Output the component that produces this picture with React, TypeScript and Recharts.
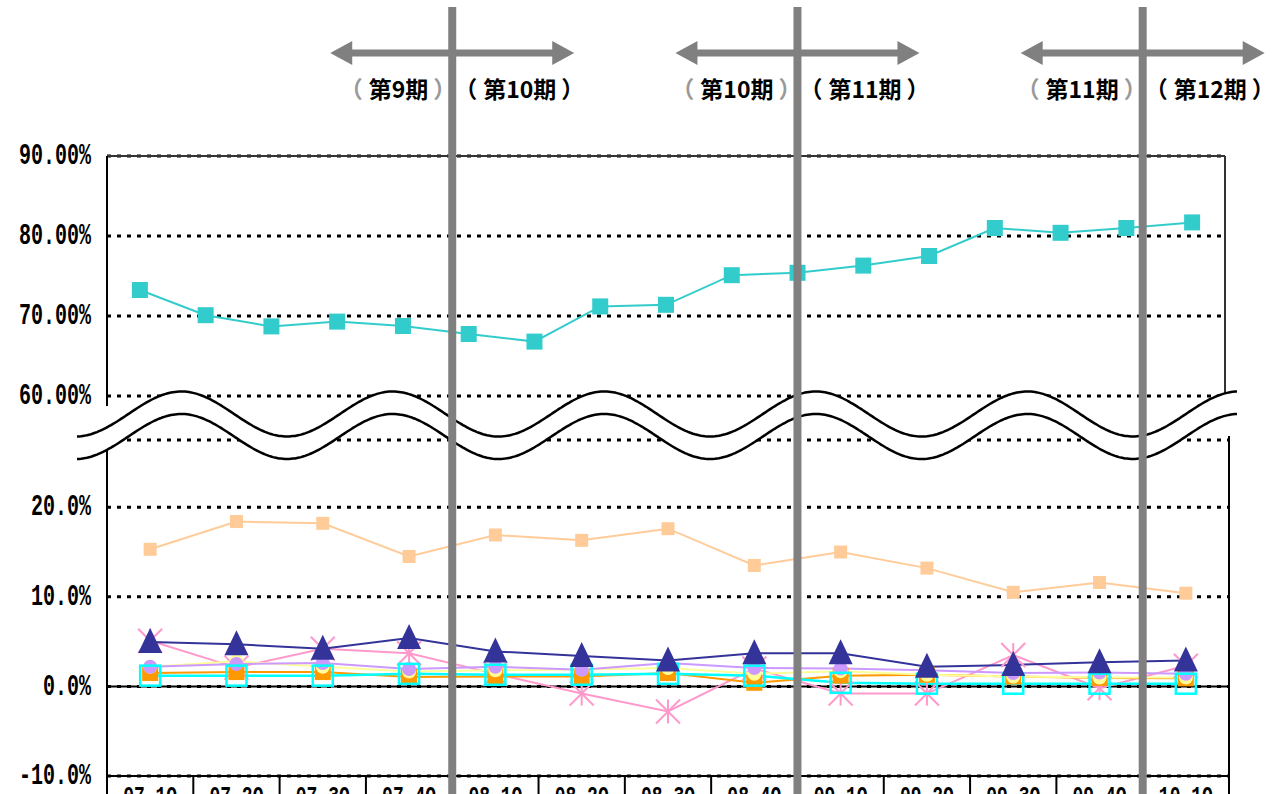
import React from "react";
import { CartesianGrid, Line, LineChart, ReferenceLine, XAxis, YAxis } from "recharts";

// ---- data ----
const upperCategories = [
  "u01", "u02", "u03", "u04", "u05", "u06", "u07", "u08", "u09",
  "u10", "u11", "u12", "u13", "u14", "u15", "u16", "u17",
];
const upperTeal = [
  73.25, 70.1, 68.7, 69.3, 68.75, 67.75, 66.8, 71.2, 71.4,
  75.1, 75.4, 76.3, 77.5, 81.0, 80.4, 81.0, 81.7,
];
const upperTicks = [60, 70, 80, 90];

const quarters = [
  "07-1Q", "07-2Q", "07-3Q", "07-4Q", "08-1Q", "08-2Q", "08-3Q",
  "08-4Q", "09-1Q", "09-2Q", "09-3Q", "09-4Q", "10-1Q",
];
const peach = [15.3, 18.4, 18.2, 14.5, 16.9, 16.3, 17.6, 13.5, 15.0, 13.2, 10.5, 11.6, 10.4];
const navy = [4.95, 4.7, 4.2, 5.4, 3.9, 3.4, 2.9, 3.7, 3.7, 2.2, 2.4, 2.7, 2.9];
const pink = [5.1, 2.1, 4.2, 3.7, 1.4, -0.8, -2.8, 2.0, -0.8, -0.8, 3.5, -0.2, 2.3];
const lavender = [2.2, 2.5, 2.6, 1.95, 2.2, 1.85, 2.6, 2.05, 2.0, 1.8, 1.5, 1.55, 1.4];
const yellow = [2.2, 2.8, 2.2, 1.65, 1.8, 1.9, 2.05, 1.4, 1.7, 1.3, 1.1, 1.0, 1.0];
const orange = [1.5, 1.6, 1.6, 1.05, 1.1, 1.1, 1.5, 0.4, 1.2, 1.3, 1.1, 0.95, 0.9];
const cyan = [1.2, 1.2, 1.2, 1.4, 1.3, 1.3, 1.4, 1.2, 0.4, 0.3, 0.3, 0.3, 0.3];
const lowerTicks = [-10, 0, 10, 20];

// period boundaries: index of the quarter where a new period starts
const periodSplits = [4, 8, 12];
const periodLeft = ["第9期", "第10期", "第11期"];
const periodRight = ["第10期", "第11期", "第12期"];

// ---- layout ----
const W = 1277;
const H = 794;
const UP = { left: 107, right: 1225, top: 156, bottom: 396, h: 420 };
const LOW = { left: 107, right: 1229, top: 440, bottom: 776 };
const BAND = (LOW.right - LOW.left) / quarters.length;
const UP_BAND = (UP.right - UP.left) / upperCategories.length;
const GRAY = "#808080";
const MONO = "'Liberation Mono', 'DejaVu Sans Mono', monospace";
const CJK = "'Noto Sans CJK JP', sans-serif";

const upperData = upperCategories.map((c, i) => ({ c, teal: upperTeal[i] }));
const lowerData = quarters.map((q, i) => ({
  q,
  peach: peach[i],
  navy: navy[i],
  pink: pink[i],
  lavender: lavender[i],
  yellow: yellow[i],
  orange: orange[i],
  cyan: cyan[i],
}));

// ---- markers ----
const squareDot = (size: number, fill: string) => (p: any) => (
  <rect key={`s${p.index}`} x={p.cx - size / 2} y={p.cy - size / 2} width={size} height={size} fill={fill} />
);
const openSquareDot = (size: number, stroke: string) => (p: any) => (
  <rect key={`o${p.index}`} x={p.cx - size / 2} y={p.cy - size / 2} width={size} height={size}
    fill="none" stroke={stroke} strokeWidth={2.5} />
);
const circleDot = (r: number, fill: string) => (p: any) => (
  <circle key={`c${p.index}`} cx={p.cx} cy={p.cy} r={r} fill={fill} />
);
const triangleDot = (p: any) => (
  <polygon key={`t${p.index}`} fill="#333399"
    points={`${p.cx},${p.cy - 14} ${p.cx - 12},${p.cy + 11} ${p.cx + 12},${p.cy + 11}`} />
);
const starDot = (p: any) => {
  const r = 12;
  return (
    <g key={`a${p.index}`} stroke="#FF99CC" strokeWidth={2}>
      <line x1={p.cx} y1={p.cy - r} x2={p.cx} y2={p.cy + r} />
      <line x1={p.cx - r} y1={p.cy - r} x2={p.cx + r} y2={p.cy + r} />
      <line x1={p.cx + r} y1={p.cy - r} x2={p.cx - r} y2={p.cy + r} />
    </g>
  );
};

// ---- ticks ----
function YTick(props: any) {
  const { x, y, payload, digits } = props;
  return (
    <g transform={`translate(${x + 2},${y}) scale(1,1.45)`}>
      <text x={0} y={0} textAnchor="end" dominantBaseline="central" fontFamily={MONO}
        fontWeight={700} fontSize={20} fill="#000">
        {`${Number(payload.value).toFixed(digits)}%`}
      </text>
    </g>
  );
}

function QuarterTick(props: any) {
  const { x, payload } = props;
  return (
    <g>
      <line x1={x + BAND / 2} x2={x + BAND / 2} y1={LOW.bottom} y2={H} stroke="#000" strokeWidth={2} />
      <g transform={`translate(${x},${804}) scale(1,1.4)`}>
        <text x={0} y={0} textAnchor="middle" fontFamily={MONO} fontWeight={700} fontSize={18} fill="#000">
          {payload.value}
        </text>
      </g>
    </g>
  );
}

// ---- break mark ----
function wavePath(offset: number) {
  const pts: string[] = [];
  for (let x = 77; x <= 1237; x += 2) {
    const y = 414 + offset + 22.5 * Math.cos((2 * Math.PI * (x - 75.5)) / 211.5);
    pts.push(`${x},${y.toFixed(1)}`);
  }
  return pts;
}

function Arrow({ cx }: { cx: number }) {
  const x1 = cx - 122;
  const x2 = cx + 122;
  const y = 53;
  const hl = 22;
  const hh = 12;
  const t = 3.5;
  const d = `M${x1},${y} L${x1 + hl},${y - hh} L${x1 + hl},${y - t} L${x2 - hl},${y - t} L${x2 - hl},${y - hh}
    L${x2},${y} L${x2 - hl},${y + hh} L${x2 - hl},${y + t} L${x1 + hl},${y + t} L${x1 + hl},${y + hh} Z`;
  return <path d={d} fill={GRAY} />;
}

function PeriodLabel({ x, anchor, label, parenFill }: { x: number; anchor: "start" | "end"; label: string; parenFill: string }) {
  return (
    <text x={x} y={98} textAnchor={anchor} fontFamily={CJK} fontWeight={700} fontSize={23} fill="#000">
      <tspan fill={parenFill}>（</tspan>
      <tspan dx={6}>{label}</tspan>
      <tspan dx={5} fill={parenFill}>）</tspan>
    </text>
  );
}

function Overlay() {
  const upper = wavePath(0);
  const lower = wavePath(22.5);
  const band = `M${upper.join(" L")} L${[...lower].reverse().join(" L")} Z`;
  return (
    <svg width={W} height={H} style={{ position: "absolute", left: 0, top: 0, pointerEvents: "none" }}>
      {/* frame pieces */}
      <line x1={UP.right} x2={UP.right} y1={UP.top} y2={UP.bottom} stroke="#333" strokeWidth={2} />
      <line x1={UP.left} x2={UP.left} y1={UP.bottom} y2={UP.bottom + 10} stroke="#000" strokeWidth={2} />
      <line x1={LOW.right} x2={LOW.right} y1={LOW.top - 4} y2={H} stroke="#000" strokeWidth={2} />
      <line x1={LOW.left} x2={LOW.left} y1={LOW.bottom} y2={H} stroke="#000" strokeWidth={2} />

      {/* axis break */}
      <path d={band} fill="#fff" stroke="none" />
      <path d={`M${upper.join(" L")}`} fill="none" stroke="#000" strokeWidth={2.5} />
      <path d={`M${lower.join(" L")}`} fill="none" stroke="#000" strokeWidth={2.5} />

      {/* fiscal period boundaries */}
      {periodSplits.map((idx, i) => {
        const x = LOW.left + idx * BAND;
        return (
          <g key={idx}>
            <line x1={x} x2={x} y1={7} y2={H} stroke={GRAY} strokeWidth={8} />
            <Arrow cx={x} />
            <PeriodLabel x={x + 4} anchor="end" label={periodLeft[i]} parenFill="#999" />
            <PeriodLabel x={x + 2} anchor="start" label={periodRight[i]} parenFill="#000" />
          </g>
        );
      })}
    </svg>
  );
}

export default function App() {
  return (
    <div style={{ position: "absolute", left: 0, top: 0, width: W, height: H, background: "#fff", overflow: "hidden" }}>
      <div style={{ position: "absolute", left: 0, top: 0 }}>
        <LineChart width={W} height={UP.h} data={upperData}
          margin={{ top: UP.top, right: W - UP.right, bottom: UP.h - UP.bottom, left: 0 }}>
          <CartesianGrid vertical={false} stroke="#000" strokeWidth={3} strokeDasharray="4 6" />
          <XAxis dataKey="c" hide padding={{ left: UP_BAND / 2, right: UP_BAND / 2 }} />
          <YAxis width={UP.left} domain={[60, 90]} ticks={upperTicks} interval={0}
            axisLine={{ stroke: "#000", strokeWidth: 2 }} tickLine={false} tickMargin={12}
            tick={<YTick digits={2} />} />
          <ReferenceLine y={90} stroke="#333" strokeWidth={2} />
          <Line dataKey="teal" type="linear" stroke="#33CCCC" strokeWidth={2}
            dot={squareDot(16, "#33CCCC")} activeDot={false} isAnimationActive={false} />
        </LineChart>
      </div>
      <div style={{ position: "absolute", left: 0, top: 0 }}>
        <LineChart width={W} height={H} data={lowerData}
          margin={{ top: LOW.top, right: W - LOW.right, bottom: 0, left: 0 }}>
          <CartesianGrid vertical={false} stroke="#000" strokeWidth={3} strokeDasharray="4 6" />
          <XAxis dataKey="q" height={H - LOW.bottom} interval={0} tickLine={false}
            padding={{ left: BAND / 2, right: BAND / 2 }}
            axisLine={{ stroke: "#000", strokeWidth: 2 }} tick={<QuarterTick />} />
          <YAxis width={LOW.left} domain={[-10, 27.5]} ticks={lowerTicks} interval={0}
            axisLine={{ stroke: "#000", strokeWidth: 2 }} tickLine={false} tickMargin={12}
            tick={<YTick digits={1} />} />
          <ReferenceLine y={0} stroke="#000" strokeWidth={2} />
          <Line dataKey="peach" type="linear" stroke="#FFCC99" strokeWidth={2}
            dot={squareDot(13, "#FFCC99")} activeDot={false} isAnimationActive={false} />
          <Line dataKey="pink" type="linear" stroke="#FF99CC" strokeWidth={2}
            dot={starDot} activeDot={false} isAnimationActive={false} />
          <Line dataKey="orange" type="linear" stroke="#FF9900" strokeWidth={2}
            dot={squareDot(16, "#FF9900")} activeDot={false} isAnimationActive={false} />
          <Line dataKey="yellow" type="linear" stroke="#FFFF99" strokeWidth={2}
            dot={circleDot(7, "#FFFF99")} activeDot={false} isAnimationActive={false} />
          <Line dataKey="lavender" type="linear" stroke="#CC99FF" strokeWidth={2}
            dot={circleDot(7, "#CC99FF")} activeDot={false} isAnimationActive={false} />
          <Line dataKey="cyan" type="linear" stroke="#00FFFF" strokeWidth={2.5}
            dot={openSquareDot(20, "#00FFFF")} activeDot={false} isAnimationActive={false} />
          <Line dataKey="navy" type="linear" stroke="#333399" strokeWidth={2}
            dot={triangleDot} activeDot={false} isAnimationActive={false} />
        </LineChart>
      </div>
      <Overlay />
    </div>
  );
}
